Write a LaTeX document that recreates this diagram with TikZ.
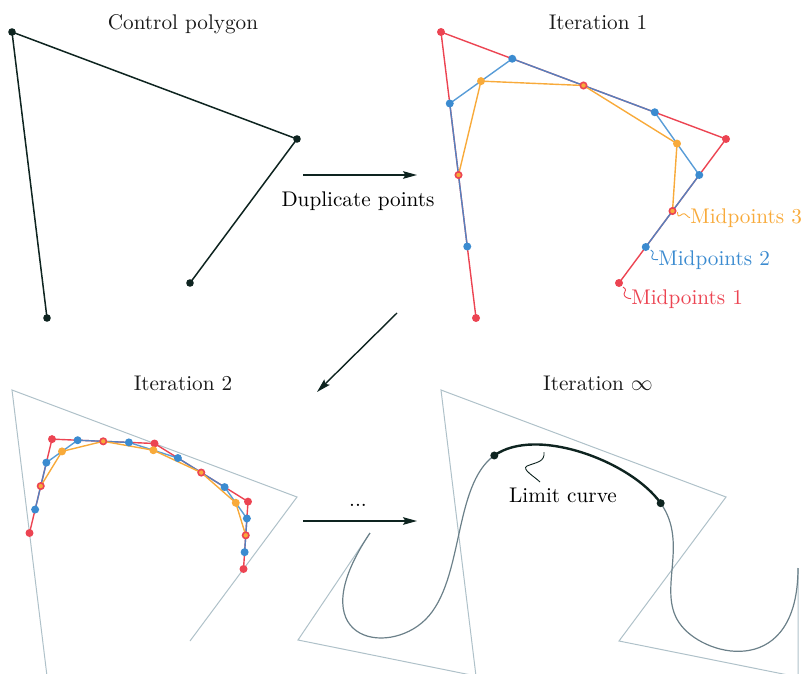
\documentclass[tikz,border=0pt]{standalone}
\usetikzlibrary{calc,arrows.meta}

\definecolor{ptred}{HTML}{EC4452}
\definecolor{ptblue}{HTML}{3B8BD0}
\definecolor{ptorange}{HTML}{F8AA3A}
\definecolor{ptblack}{HTML}{0E2420}
\definecolor{hullgray}{HTML}{AFC1C9}
\definecolor{curvegray}{HTML}{6B8089}

\tikzset{
  poly/.style={draw=ptblack, line width=0.75pt},
  hull/.style={draw=hullgray, line width=0.5pt},
  spline/.style={draw=curvegray, line width=0.6pt},
  limit/.style={draw=ptblack, line width=1.2pt},
  redline/.style={draw=ptred, line width=0.7pt},
  blueline/.style={draw=ptblue, line width=0.7pt, draw opacity=0.85},
  orangeline/.style={draw=ptorange, line width=0.7pt},
  flow/.style={draw=ptblack, line width=0.7pt, -{Stealth[length=7pt,width=3.8pt,inset=1.2pt]}},
  wiggle/.style={line width=0.45pt},
  title/.style={anchor=base, inner sep=0pt, text=black!90},
  lbl/.style={anchor=base west, inner sep=0pt},
}

\begin{document}
\begin{tikzpicture}[x=0.5pt, y=-0.5pt, font=\fontsize{10.6}{12.7}\selectfont]
  \useasboundingbox (0,0) rectangle (808,674);

  % control polygon
  \coordinate (p0) at (47,318);
  \coordinate (p1) at (12,32);
  \coordinate (p2) at (297,139);
  \coordinate (p3) at (190,283);
  \node[title] (t0) at (183,30) {Control polygon};
  \draw[poly] (p0) -- (p1) -- (p2) -- (p3);
  \foreach \i in {0,...,3} \fill[ptblack] (p\i) circle[radius=1.9pt];

  % iteration 1: duplicate points, then midpoints three times
  \foreach \i [evaluate=\i as \kk using int(2*\i)] in {0,...,3}
    \coordinate (ra\kk) at ($(p\i)+(429,0)$);
  \foreach \i [evaluate=\i as \kk using int(2*\i+1), evaluate=\i as \jj using int(\i+1)] in {0,...,2}
    \coordinate (ra\kk) at ($(p\i)!0.5!(p\jj)+(429,0)$);
  \foreach \i [evaluate=\i as \hh using int(\i-1)] in {1,...,6}
    \coordinate (ba\i) at ($(ra\hh)!0.5!(ra\i)$);
  \foreach \i [evaluate=\i as \jj using int(\i+1)] in {1,...,5}
    \coordinate (oa\i) at ($(ba\i)!0.5!(ba\jj)$);

  \node[title] (t1) at (598,30) {Iteration 1};
  \draw[redline] (ra0) \foreach \i in {1,...,6} {-- (ra\i)};
  \draw[blueline] (ba1) \foreach \i in {2,...,6} {-- (ba\i)};
  \draw[orangeline] (oa1) \foreach \i in {2,...,5} {-- (oa\i)};
  \foreach \i in {0,2,4,6} \fill[ptred] (ra\i) circle[radius=2pt];
  \foreach \i in {1,...,6} \fill[ptblue] (ba\i) circle[radius=2pt];
  \foreach \i in {2,4} \fill[ptorange] (oa\i) circle[radius=2pt];
  \foreach \i in {1,3,5} \filldraw[ptred, fill=ptorange, line width=0.8pt] (ra\i) circle[radius=1.6pt];

  \node[lbl, text=ptorange] (m3) at (690,223) {Midpoints 3};
  \node[lbl, text=ptblue] (m2) at (658,265) {Midpoints 2};
  \node[lbl, text=ptred] (m1) at (631,304) {Midpoints 1};
  \draw[wiggle, ptorange] ($(ra5)+(5,1)$) .. controls +(0,6) and +(-3,2) .. ($(ra5)+(10,3)$)
    .. controls +(3,-2) and +(-3,0) .. (m3.west);
  \draw[wiggle, ptblue] ($(ba6)+(5,3)$) .. controls +(5,3) and +(0,-3) .. ($(ba6)+(6,10)$)
    .. controls +(0,3) and +(-3,0) .. (m2.west);
  \draw[wiggle, ptred] ($(ra6)+(4,4)$) .. controls +(5,3) and +(0,-3) .. ($(ra6)+(5,11)$)
    .. controls +(0,3) and +(-3,0) .. (m1.west);

  % iteration 2
  \foreach \i in {0,...,3} \coordinate (q\i) at ($(p\i)+(0,358)$);
  \foreach \i [evaluate=\i as \kk using int(2*\i), evaluate=\i as \jj using int(\i+1)] in {0,...,4}
    \coordinate (rb\kk) at ($(oa\jj)+(-429,358)$);
  \foreach \i [evaluate=\i as \kk using int(2*\i+1), evaluate=\i as \jj using int(\i+1), evaluate=\i as \mm using int(\i+2)] in {0,...,3}
    \coordinate (rb\kk) at ($(oa\jj)!0.5!(oa\mm)+(-429,358)$);
  \foreach \i [evaluate=\i as \hh using int(\i-1)] in {1,...,8}
    \coordinate (bb\i) at ($(rb\hh)!0.5!(rb\i)$);
  \foreach \i [evaluate=\i as \jj using int(\i+1)] in {1,...,7}
    \coordinate (ob\i) at ($(bb\i)!0.5!(bb\jj)$);

  \node[title] (t2) at (183,390) {Iteration 2};
  \draw[hull] (q0) -- (q1) -- (q2) -- (q3);
  \draw[redline] (rb0) \foreach \i in {1,...,8} {-- (rb\i)};
  \draw[blueline] (bb1) \foreach \i in {2,...,8} {-- (bb\i)};
  \draw[orangeline] (ob1) \foreach \i in {2,...,7} {-- (ob\i)};
  \foreach \i in {0,2,4,6,8} \fill[ptred] (rb\i) circle[radius=2pt];
  \foreach \i in {1,...,8} \fill[ptblue] (bb\i) circle[radius=2pt];
  \foreach \i in {2,4,6} \fill[ptorange] (ob\i) circle[radius=2pt];
  \foreach \i in {1,3,5,7} \filldraw[ptred, fill=ptorange, line width=0.8pt] (rb\i) circle[radius=1.6pt];

  % iteration infinity: extended polygon and its cubic B-spline
  \coordinate (e0) at (370,533);
  \coordinate (e1) at (298,640);
  \foreach \i in {0,...,3} \coordinate (u\i) at ($(p\i)+(429,358)$);
  \coordinate (e2) at (798,677);
  \coordinate (e3) at (798,568);
  \node[title] (t3) at (598,390) {Iteration $\infty$};
  \draw[hull] (e0) -- (e1) -- (u0) -- (u1) -- (u2) -- (u3) -- (e2) -- (e3);

  \coordinate (k2) at ($(e1)!0.5!(u0)$);
  \coordinate (k4) at ($(u0)!0.3333!(u1)$);
  \coordinate (k5) at ($(u0)!0.6667!(u1)$);
  \coordinate (k7) at ($(u1)!0.3333!(u2)$);
  \coordinate (k8) at ($(u1)!0.6667!(u2)$);
  \coordinate (k10) at ($(u2)!0.3333!(u3)$);
  \coordinate (k11) at ($(u2)!0.6667!(u3)$);
  \coordinate (k13) at ($(u3)!0.5!(e2)$);
  \coordinate (k3) at ($(k2)!0.5!(k4)$);
  \coordinate (k6) at ($(k5)!0.5!(k7)$);
  \coordinate (k9) at ($(k8)!0.5!(k10)$);
  \coordinate (k12) at ($(k11)!0.5!(k13)$);

  \draw[spline] (e0) .. controls (e1) and (k2) .. (k3) .. controls (k4) and (k5) .. (k6);
  \draw[spline] (k9) .. controls (k10) and (k11) .. (k12) .. controls (k13) and (e2) .. (e3);
  \draw[limit] (k6) .. controls (k7) and (k8) .. (k9);
  \fill[ptblack] (k6) circle[radius=2pt];
  \fill[ptblack] (k9) circle[radius=2pt];

  \node[anchor=base, inner sep=0pt] (lim) at (563,502) {Limit curve};
  \coordinate (lc) at (544,452);
  \coordinate (lt) at (540,482);
  \draw[wiggle, ptblack] (lc) .. controls +(1,10) and +(10,-4) .. (527,466)
    .. controls +(-6,3) and +(-5,-5) .. (lt);

  % arrows between the panels
  \coordinate (f1a) at (303,175);
  \coordinate (f1b) at (417,175);
  \draw[flow] (f1a) -- (f1b);
  \node[anchor=base, inner sep=0pt] (dup) at (358,206) {Duplicate points};
  \coordinate (f2a) at (397,313);
  \coordinate (f2b) at (317,392);
  \draw[flow] (f2a) -- (f2b);
  \coordinate (f3a) at (303,521);
  \coordinate (f3b) at (417,521);
  \draw[flow] (f3a) -- (f3b);
  \node[anchor=base, inner sep=0pt] (etc) at (358,506) {...};
\end{tikzpicture}
\end{document}
